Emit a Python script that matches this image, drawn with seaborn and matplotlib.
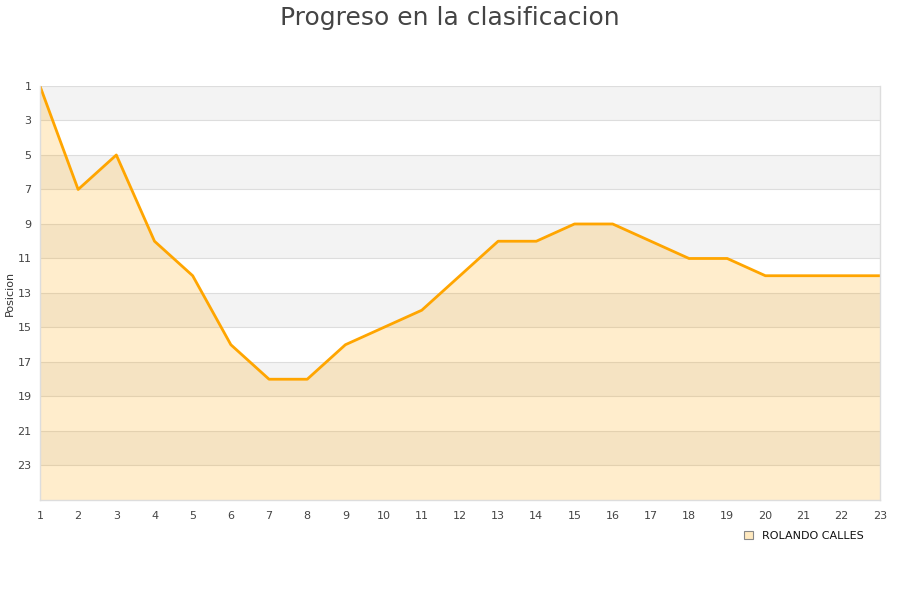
import matplotlib
matplotlib.use("Agg")
import matplotlib.pyplot as plt
import seaborn as sns
import pandas as pd
from matplotlib.patches import Patch

jornadas = list(range(1, 24))
posiciones = [1, 7, 5, 10, 12, 16, 18, 18, 16, 15, 14, 12, 10, 10, 9, 9, 10, 11, 11, 12, 12, 12, 12]
jugador = "ROLANDO CALLES"
y_ticks = list(range(1, 24, 2))

df = pd.DataFrame({"Jornada": jornadas, "Posicion": posiciones})

sns.set_theme(style="white")
plt.rcParams['font.family'] = ['DejaVu Sans']

fig = plt.figure(figsize=(9, 6), dpi=100)
ax = fig.add_axes([0.0444, 0.1667, 0.9333, 0.69])

# alternating bands
for i, start in enumerate(range(1, 25, 2)):
    if i % 2 == 0:
        ax.axhspan(start, start + 2, color="#f3f3f3", zorder=0, lw=0)
for t in y_ticks:
    ax.axhline(t, color="#dddddd", lw=0.8, zorder=0.5)

ax.fill_between(df["Jornada"], df["Posicion"], 25, color="orange", alpha=0.2, lw=0, zorder=1)
sns.lineplot(data=df, x="Jornada", y="Posicion", color="orange", lw=2, ax=ax, zorder=2)

ax.set_xlim(1, 23)
ax.set_ylim(25, 1)
ax.set_xticks(jornadas)
ax.set_yticks(y_ticks)
ax.tick_params(axis="both", labelsize=8, colors="#444444", length=0)
ax.tick_params(axis="x", pad=8)
ax.tick_params(axis="y", pad=6)
ax.set_xlabel("")
ax.set_ylabel("Posicion", fontsize=8, color="#333333", labelpad=2)
ax.spines["top"].set_visible(False)
for s in ["left", "bottom", "right"]:
    ax.spines[s].set_color("#dddddd")
    ax.spines[s].set_linewidth(1)

fig.suptitle("Progreso en la clasificacion", fontsize=18, color="#444444", y=0.99)

handle = Patch(facecolor="#ffe9bf", edgecolor="#888888", lw=0.8, label=jugador)
fig.legend(handles=[handle], loc="center", bbox_to_anchor=(0.893, 0.107), frameon=False,
           fontsize=8, handlelength=0.8, handleheight=0.8, handletextpad=0.8,
           labelcolor="#111111")

fig.savefig("out.png", dpi=100)
